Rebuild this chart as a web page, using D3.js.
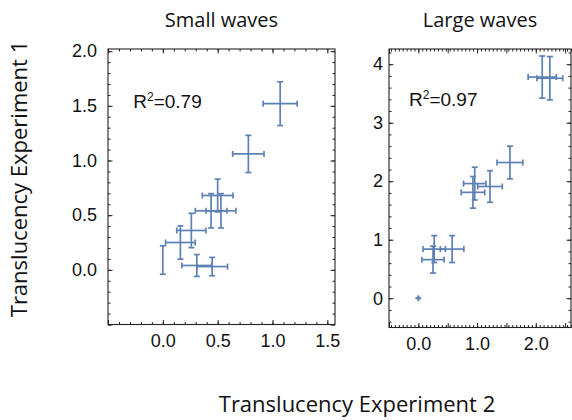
<!DOCTYPE html>
<html>
<head>
<meta charset="utf-8">
<script src="https://cdn.jsdelivr.net/npm/d3@7"></script>
<style>
  body { margin: 0; background: #fff; }
  svg { display: block; }
  .tick text { font-family: "Liberation Sans", Arial, sans-serif; font-size: 18px; fill: #111; }
  .tick line { stroke: #222; }
  .title { font-family: "Open Sans", "Noto Sans", sans-serif; fill: #111; }
</style>
</head>
<body>
<svg width="572" height="420"></svg>
<script>
// small waves: x = experiment 2, y = experiment 1
var smallX    = [1.07, 0.78, 0.50, 0.44, 0.53, 0.26, 0.16, 0.00, 0.31, 0.45];
var smallY    = [1.52, 1.06, 0.68, 0.54, 0.54, 0.36, 0.25, 0.09, 0.04, 0.03];
var smallXErr = [0.155, 0.143, 0.14, 0.144, 0.136, 0.133, 0.135, 0, 0.136, 0.14];
var smallYErr = [0.20, 0.17, 0.15, 0.157, 0.157, 0.157, 0.152, 0.13, 0.10, 0.084];

// large waves
var largeX    = [0.00, 0.27, 0.25, 0.575, 0.96, 0.93, 1.22, 1.56, 2.11, 2.24];
var largeY    = [0.00, 0.84, 0.66, 0.84, 1.96, 1.81, 1.91, 2.32, 3.78, 3.76];
var largeXErr = [0.035, 0.19, 0.19, 0.20, 0.19, 0.20, 0.21, 0.22, 0.24, 0.22];
var largeYErr = [0.035, 0.23, 0.23, 0.23, 0.28, 0.27, 0.27, 0.28, 0.36, 0.37];

var smallXTicks = [0, 0.5, 1.0, 1.5];
var smallYTicks = [0, 0.5, 1.0, 1.5, 2.0];
var largeXTicks = [0, 1, 2];
var largeYTicks = [0, 1, 2, 3, 4];

var color = "#5e81b5";
var svg = d3.select("svg");

var panels = [
  { title: "Small waves", r2: "0.79",
    xs: smallX, ys: smallY, xe: smallXErr, ye: smallYErr,
    xdom: [-0.5, 1.57], ydom: [-0.5, 2.02],
    box: {left: 108, right: 335, top: 49, bottom: 324.5},
    xTicks: smallXTicks, yTicks: smallYTicks, xFmt: ".1f", yFmt: ".1f",
    xMinor: 0.1, yMinor: 0.1, yPad: 11, r2pos: [-0.27, 1.48] },
  { title: "Large waves", r2: "0.97",
    xs: largeX, ys: largeY, xe: largeXErr, ye: largeYErr,
    xdom: [-0.5, 2.6], ydom: [-0.5, 4.26],
    box: {left: 389, right: 571, top: 49, bottom: 327.5},
    xTicks: largeXTicks, yTicks: largeYTicks, xFmt: ".1f", yFmt: "d",
    xMinor: 1 / 15, yMinor: 0.2, yPad: 6, r2pos: [-0.16, 3.29] }
];

function range(dom, step) {
  var out = [];
  for (var v = Math.ceil((dom[0] - 1e-9) / step) * step; v <= dom[1] + 1e-9; v += step) out.push(+v.toFixed(4));
  return out;
}

panels.forEach(function(p) {
  var b = p.box, w = b.right - b.left, h = b.bottom - b.top;
  var g = svg.append("g").attr("transform", "translate(" + b.left + "," + b.top + ")");

  var x = d3.scaleLinear().domain(p.xdom).range([0, w]);
  var y = d3.scaleLinear().domain(p.ydom).range([h, 0]);

  var xMinor = range(p.xdom, p.xMinor), yMinor = range(p.ydom, p.yMinor);
  var xMajor = range(p.xdom, 0.5), yMajor = range(p.ydom, p.yMinor === 0.1 ? 0.5 : 1);

  // inward ticks on all four sides
  [[d3.axisBottom(x), "translate(0," + h + ")", xMinor, xMajor],
   [d3.axisTop(x), null, xMinor, xMajor],
   [d3.axisLeft(y), null, yMinor, yMajor],
   [d3.axisRight(y), "translate(" + w + ",0)", yMinor, yMajor]].forEach(function(a) {
    [[a[2], -2.5], [a[3], -4.5]].forEach(function(t) {
      var ax = g.append("g").attr("class", "axis");
      if (a[1]) ax.attr("transform", a[1]);
      ax.call(a[0].tickValues(t[0]).tickSize(t[1]).tickSizeOuter(0).tickFormat(""));
      ax.select(".domain").remove();
      ax.selectAll(".tick line").attr("stroke-width", 1);
    });
  });

  var xl = g.append("g").attr("transform", "translate(0," + h + ")")
    .call(d3.axisBottom(x).tickValues(p.xTicks).tickFormat(d3.format(p.xFmt)).tickSize(0).tickPadding(10));
  xl.select(".domain").remove();
  xl.attr("font-family", null).attr("font-size", null);

  var yl = g.append("g")
    .call(d3.axisLeft(y).tickValues(p.yTicks).tickFormat(d3.format(p.yFmt)).tickSize(0).tickPadding(p.yPad));
  yl.select(".domain").remove();
  yl.attr("font-family", null).attr("font-size", null);

  g.append("rect").attr("width", w).attr("height", h)
    .attr("fill", "none").attr("stroke", "#222").attr("stroke-width", 1.1);

  var pts = p.xs.map(function(v, i) { return {x: v, y: p.ys[i], xe: p.xe[i], ye: p.ye[i]}; });
  var bars = g.append("g").attr("stroke", color).attr("stroke-width", 1.7).attr("fill", "none");
  pts.forEach(function(d) {
    var cx = x(d.x), cy = y(d.y);
    if (d.xe > 0) {
      var x0 = x(d.x - d.xe), x1 = x(d.x + d.xe), c = Math.min(3, (x1 - x0) / 4);
      bars.append("line").attr("x1", x0).attr("x2", x1).attr("y1", cy).attr("y2", cy);
      bars.append("line").attr("x1", x0).attr("x2", x0).attr("y1", cy - c).attr("y2", cy + c);
      bars.append("line").attr("x1", x1).attr("x2", x1).attr("y1", cy - c).attr("y2", cy + c);
    }
    if (d.ye > 0) {
      var y0 = y(d.y - d.ye), y1 = y(d.y + d.ye), k = Math.min(3, (y0 - y1) / 4);
      bars.append("line").attr("x1", cx).attr("x2", cx).attr("y1", y0).attr("y2", y1);
      bars.append("line").attr("x1", cx - k).attr("x2", cx + k).attr("y1", y0).attr("y2", y0);
      bars.append("line").attr("x1", cx - k).attr("x2", cx + k).attr("y1", y1).attr("y2", y1);
    }
  });

  var r2 = g.append("text").attr("x", x(p.r2pos[0])).attr("y", y(p.r2pos[1]))
    .attr("font-family", "Liberation Sans, Arial, sans-serif").attr("font-size", 19).attr("fill", "#111");
  r2.append("tspan").text("R");
  r2.append("tspan").attr("font-size", 12).attr("dy", -7).text("2");
  r2.append("tspan").attr("dy", 7).text("=" + p.r2);

  svg.append("text").attr("class", "title")
    .attr("x", b.left + w / 2).attr("y", 27)
    .attr("text-anchor", "middle").attr("font-size", 20)
    .text(p.title);
});

svg.append("text").attr("class", "title")
  .attr("x", 357).attr("y", 412)
  .attr("text-anchor", "middle").attr("font-size", 22)
  .text("Translucency Experiment 2");

svg.append("text").attr("class", "title")
  .attr("transform", "translate(27,179) rotate(-90)")
  .attr("text-anchor", "middle").attr("font-size", 22)
  .text("Translucency Experiment 1");
</script>
</body>
</html>
